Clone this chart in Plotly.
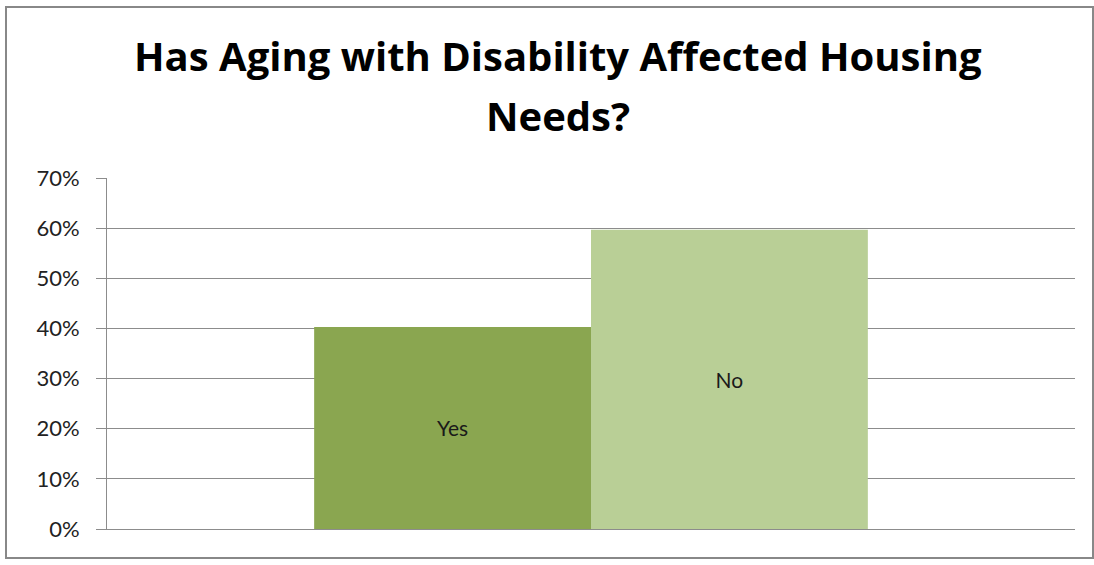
import plotly.graph_objects as go

# Survey responses (share of respondents, %)
answers = ["Yes", "No"]
shares = [40.3, 59.7]
bar_colors = ["#8AA650", "#B9CF96"]

title_lines = ["Has Aging with Disability Affected Housing", "Needs?"]
title_centers_px = [56, 115]  # vertical centre of each title line, px from top
y_ticks = [0, 10, 20, 30, 40, 50, 60, 70]
y_tick_labels = [f"{v}%" for v in y_ticks]

W, H = 1094, 565

fig = go.Figure()
for answer, share, color in zip(answers, shares, bar_colors):
    fig.add_trace(go.Bar(
        x=["all"],
        y=[share],
        name=answer,
        text=[answer],
        textposition="inside",
        insidetextanchor="middle",
        textangle=0,
        textfont=dict(family="Lato", size=21, color="#1a1a1a"),
        marker=dict(color=color, line=dict(width=0)),
        hoverinfo="skip",
    ))

# Two-line chart title, centred over the plot
for line, cy in zip(title_lines, title_centers_px):
    fig.add_annotation(
        text=line,
        xref="paper", yref="paper",
        x=(557.5 - 107) / 968,
        y=(529 - cy) / 351,
        xanchor="center", yanchor="middle",
        showarrow=False,
        font=dict(family="Open Sans", size=40, color="#000000", weight="bold"),
    )

fig.update_layout(
    width=W,
    height=H,
    margin=dict(l=107, r=19, t=178, b=36),
    paper_bgcolor="white",
    plot_bgcolor="white",
    barmode="group",
    bargap=0.428,
    bargroupgap=0,
    showlegend=False,
    xaxis=dict(
        showticklabels=False,
        ticks="",
        showgrid=False,
        showline=True,
        linecolor="#8c8c8c",
        linewidth=1,
        zeroline=False,
    ),
    yaxis=dict(
        range=[0, 70],
        tickvals=y_ticks,
        ticktext=y_tick_labels,
        ticks="outside",
        ticklen=10,
        tickcolor="#8c8c8c",
        ticklabelstandoff=12,
        tickfont=dict(family="Lato", size=22, color="#222222"),
        showgrid=True,
        gridcolor="#8c8c8c",
        gridwidth=1,
        showline=True,
        linecolor="#8c8c8c",
        linewidth=1,
        zeroline=False,
    ),
    shapes=[dict(
        type="rect",
        xref="paper", yref="paper",
        x0=(6 - 107) / 968, x1=(1093 - 107) / 968,
        y0=(529 - 558) / 351, y1=(529 - 7) / 351,
        line=dict(color="#888888", width=2),
        fillcolor="rgba(0,0,0,0)",
        layer="below",
    )],
)

fig.write_html("out.html")
